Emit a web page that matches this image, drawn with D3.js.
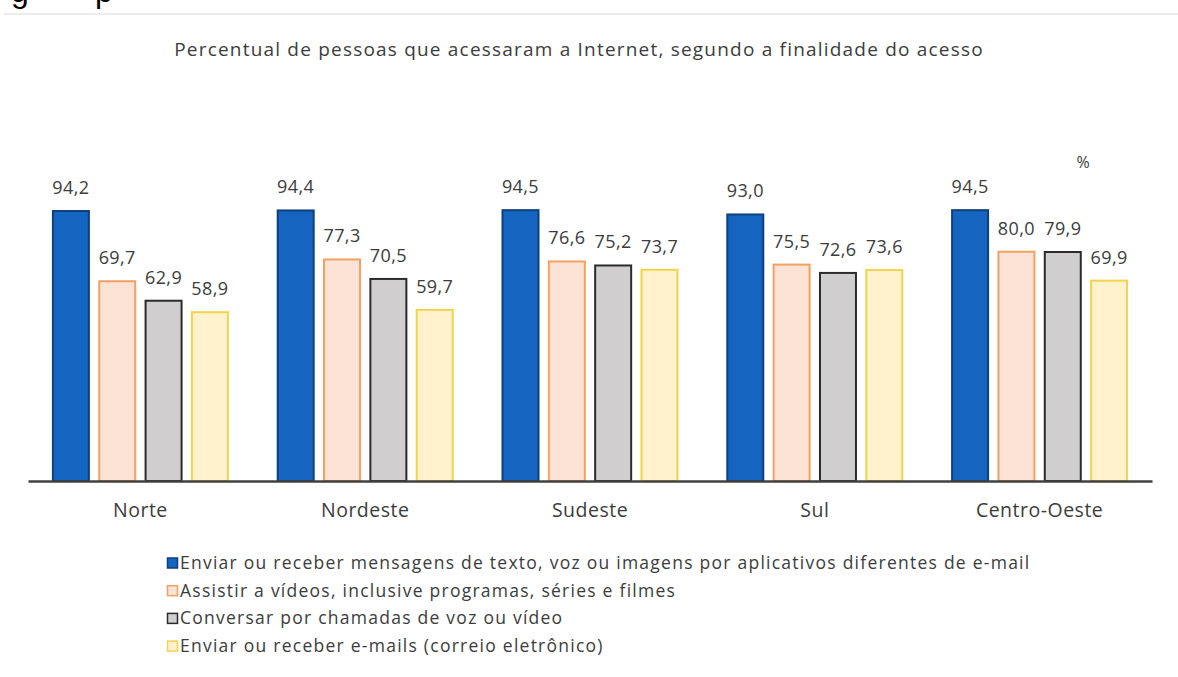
<!DOCTYPE html>
<html>
<head>
<meta charset="utf-8">
<script src="https://cdn.jsdelivr.net/npm/d3@7"></script>
<style>
  body { margin: 0; background: #fff; }
  svg { display: block; }
  text { font-family: "Open Sans", Lato, sans-serif; fill: #3c3c3c; }
</style>
</head>
<body>
<script>
// data
var regions = ["Norte", "Nordeste", "Sudeste", "Sul", "Centro-Oeste"];
var seriesNames = [
  "Enviar ou receber mensagens de texto, voz ou imagens por aplicativos diferentes de e-mail",
  "Assistir a vídeos, inclusive programas, séries e filmes",
  "Conversar por chamadas de voz ou vídeo",
  "Enviar ou receber e-mails (correio eletrônico)"
];
var mensagens = [94.2, 94.4, 94.5, 93.0, 94.5];
var videos    = [69.7, 77.3, 76.6, 75.5, 80.0];
var chamadas  = [62.9, 70.5, 75.2, 72.6, 79.9];
var emails    = [58.9, 59.7, 73.7, 73.6, 69.9];

var fills   = ["#1565c0", "#fde3d5", "#d0cece", "#fff2cc"];
var strokes = ["#0e3f7e", "#f4a062", "#2b2b2b", "#f2d350"];

var W = 1178, H = 677;
var svg = d3.select("body").append("svg")
    .attr("width", W)
    .attr("height", H);

// caption of the page, cut off at the top edge
svg.append("text").text("g").attr("x", 11).attr("y", 2)
  .style("font-family", "'Liberation Sans', Arial, sans-serif")
  .style("font-size", "32px").style("fill", "#000");
svg.append("text").text("p").attr("x", 95).attr("y", 2)
  .style("font-family", "'Liberation Sans', Arial, sans-serif")
  .style("font-size", "32px").style("fill", "#000");
svg.append("line")
  .attr("x1", 4).attr("x2", W).attr("y1", 14).attr("y2", 14)
  .attr("stroke", "#ececec").attr("stroke-width", 2);

// title
svg.append("text")
  .text("Percentual de pessoas que acessaram a Internet, segundo a finalidade do acesso")
  .attr("x", 579).attr("y", 56)
  .attr("text-anchor", "middle")
  .style("font-size", "19px")
  .style("letter-spacing", "1.2px");

var x0 = d3.scaleBand().domain(regions).range([28, 1152])
    .paddingInner(0.2126).paddingOuter(0.1063);
var x1 = d3.scaleBand().domain(d3.range(4)).range([0, x0.bandwidth()])
    .paddingInner(0.18);
var y = d3.scaleLinear().domain([0, 100]).range([481, 194.4]);

var table = regions.map(function(r, i) {
  return { region: r, values: [mensagens[i], videos[i], chamadas[i], emails[i]] };
});

var groups = svg.selectAll(".grp")
  .data(table)
  .enter().append("g")
    .attr("class", "grp")
    .attr("transform", function(d) { return "translate(" + x0(d.region) + ",0)"; });

groups.selectAll("rect")
  .data(function(d) { return d.values.map(function(v, k) { return { k: k, v: v }; }); })
  .enter().append("rect")
    .attr("x", function(d) { return x1(d.k) + 1; })
    .attr("width", x1.bandwidth() - 2)
    .attr("y", function(d) { return y(d.v); })
    .attr("height", function(d) { return y(0) - y(d.v); })
    .attr("fill", function(d) { return fills[d.k]; })
    .attr("stroke", function(d) { return strokes[d.k]; })
    .attr("stroke-width", 2);

var fmt = function(v) { return d3.format(".1f")(v).replace(".", ","); };

groups.selectAll(".val")
  .data(function(d) { return d.values.map(function(v, k) { return { k: k, v: v }; }); })
  .enter().append("text")
    .attr("class", "val")
    .attr("x", function(d) { return x1(d.k) + x1.bandwidth() / 2; })
    .attr("y", function(d) { return y(d.v) - 17; })
    .attr("text-anchor", "middle")
    .style("font-size", "18px")
    .style("letter-spacing", "0.4px")
    .text(function(d) { return fmt(d.v); });

// baseline + category labels
var xAxis = svg.append("g")
    .attr("transform", "translate(0,481)")
    .call(d3.axisBottom(x0).tickSize(0).tickPadding(22));
xAxis.select(".domain").attr("stroke", "#404040").attr("stroke-width", 2.5);
xAxis.selectAll("text")
  .style("font-size", "19.5px").style("fill", "#3c3c3c")
  .style("letter-spacing", "0.5px")
  .style("font-family", "'Open Sans', Lato, sans-serif");

svg.append("text").text("%")
  .attr("x", 1083).attr("y", 168)
  .attr("text-anchor", "middle")
  .style("font-size", "16px");

// legend
var legend = svg.selectAll(".leg")
  .data(seriesNames)
  .enter().append("g")
    .attr("class", "leg")
    .attr("transform", function(d, i) { return "translate(167," + (563 + i * 27.7) + ")"; });
legend.append("rect")
  .attr("x", 0.5).attr("y", -5).attr("width", 10).attr("height", 10)
  .attr("fill", function(d, i) { return fills[i]; })
  .attr("stroke", function(d, i) { return strokes[i]; })
  .attr("stroke-width", 1.5);
legend.append("text")
  .attr("x", 13).attr("y", 6)
  .style("font-size", "17.5px")
  .style("letter-spacing", "1.25px")
  .text(function(d) { return d; });
</script>
</body>
</html>
